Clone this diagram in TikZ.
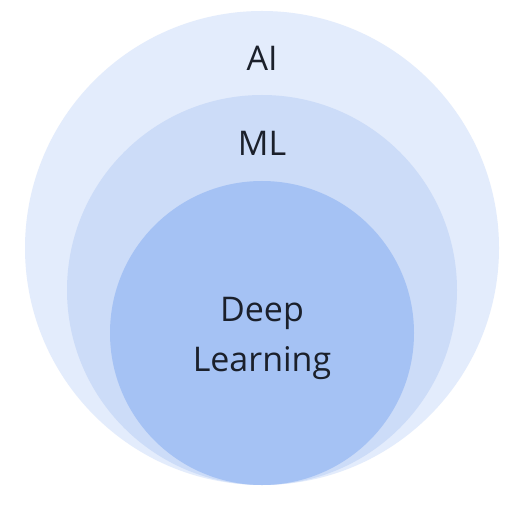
\documentclass[tikz,border=0pt]{standalone}
\usepackage{fontspec}
\setsansfont{Open Sans}
\usepackage{tikz}
\definecolor{aifill}{HTML}{E3ECFC}
\definecolor{mlfill}{HTML}{CCDCF8}
\definecolor{dlfill}{HTML}{A5C2F4}
\definecolor{inkdark}{HTML}{1B202B}
\tikzstyle{disc} = [circle, inner sep=0pt, draw=none]
\tikzstyle{tag} = [text=inkdark, align=center,
    font=\sffamily\fontsize{34}{50}\selectfont]

\begin{document}
\begin{tikzpicture}[x=1pt, y=1pt]
    \useasboundingbox [fill=white] (0,0) rectangle (519,504);
    % Place discs
    \node [disc, fill=aifill, minimum size=474pt] (ai) at (262,256) {};
    \node [disc, fill=mlfill, minimum size=390pt] (ml) at (262,214) {};
    \node [disc, fill=dlfill, minimum size=304pt] (dl) at (262,171) {};
    % Place labels
    \node [tag] (ailabel) at (262,446) {AI};
    \node [tag] (mllabel) at (262,361) {ML};
    \node [tag] (dllabel) at (262,166) {Deep\\Learning};
\end{tikzpicture}
\end{document}
